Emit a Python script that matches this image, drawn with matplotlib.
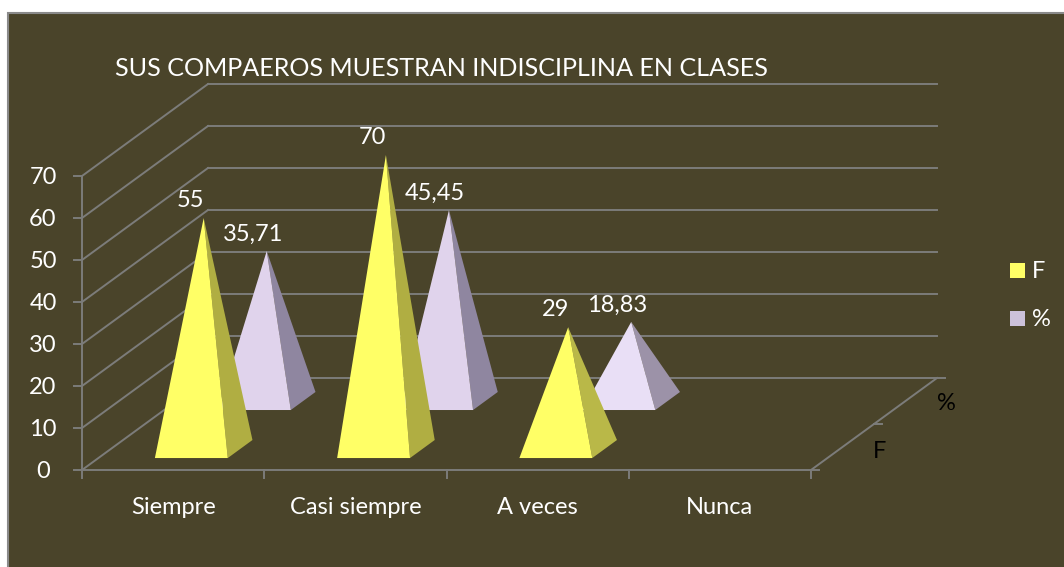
import matplotlib
matplotlib.use('Agg')
import matplotlib.pyplot as plt
from matplotlib.patches import Polygon, Rectangle

categories = ['Siempre', 'Casi siempre', 'A veces', 'Nunca']
series_names = ['F', '%']
f_values = [55, 70, 29, 0]
pct_values = [35.71, 45.45, 18.83, 0]
pct_labels = ['35,71', '45,45', '18,83', '']
y_ticks = [0, 10, 20, 30, 40, 50, 60, 70]
title = 'SUS COMPAEROS MUESTRAN INDISCIPLINA EN CLASES'

BG = '#4a442a'
GRID = '#7c7c7a'
TXT = '#ffffff'
FS = 17

# geometry of the fake 3d box, in pixels of the 1064x567 picture
X0, Y0 = 82, 470
CAT_W = 182.25
PX_PER_UNIT = 4.2
DX, DY = 126, -92


def project(u, d, v):
    # u = category position, d = depth 0..1, v = value
    return (X0 + u * CAT_W + d * DX, Y0 + d * DY - v * PX_PER_UNIT)


def pyramid(ax, i, value, start, d1, d2, front, side):
    fl = project(i + start, d1, 0)
    fr = project(i + start + 0.4, d1, 0)
    br = project(i + start + 0.4, d2, 0)
    apex = project(i + start + 0.2, (d1 + d2) / 2, value)
    ax.add_patch(Polygon([fr, br, apex], closed=True, fc=side, ec='none', zorder=3))
    ax.add_patch(Polygon([fl, fr, apex], closed=True, fc=front, ec='none', zorder=3))
    return apex


fig = plt.figure(figsize=(10.64, 5.67), dpi=100, facecolor='white')
ax = fig.add_axes([0, 0, 1, 1])
ax.set_xlim(0, 1064)
ax.set_ylim(567, 0)
ax.axis('off')
plt.rcParams['font.family'] = ['Lato', 'DejaVu Sans']

ax.add_patch(Rectangle((8, 13), 1070, 570, fc=BG, ec='#8a8a8a', lw=1.5, zorder=0))

# walls
for v in y_ticks:
    a = project(0, 0, v)
    b = project(0, 1, v)
    c = project(4, 1, v)
    ax.plot([a[0], b[0]], [a[1], b[1]], color=GRID, lw=1.4, zorder=1)
    ax.plot([b[0], c[0]], [b[1], c[1]], color=GRID, lw=1.4, zorder=1)
    ax.plot([a[0] - 8, a[0]], [a[1], a[1]], color=GRID, lw=1.4, zorder=1)
    ax.text(a[0] - 39, a[1] + 1.5, str(v), color=TXT, fontsize=FS, ha='center', va='center')

# axis lines
p00 = project(0, 0, 0)
p40 = project(4, 0, 0)
p41 = project(4, 1, 0)
ax.plot([p00[0], p00[0]], [p00[1], project(0, 0, 70)[1]], color=GRID, lw=1.4, zorder=1)
ax.plot([p00[0], p40[0]], [p00[1], p40[1]], color=GRID, lw=1.4, zorder=1)
ax.plot([p40[0], p41[0]], [p40[1], p41[1]], color=GRID, lw=1.4, zorder=1)
for i in range(len(categories) + 1):
    p = project(i, 0, 0)
    ax.plot([p[0], p[0]], [p[1], p[1] + 8], color=GRID, lw=1.4, zorder=1)
for d in [0, 0.5, 1]:
    p = project(4, d, 0)
    ax.plot([p[0], p[0] + 8], [p[1], p[1]], color=GRID, lw=1.4, zorder=1)

# pyramids, back row first
for i, v in enumerate(pct_values):
    if v == 0:
        continue
    front = '#e9dff6' if i == 2 else '#e0d3ec'
    side = '#9c92a8' if i == 2 else '#8f86a0'
    apex = pyramid(ax, i, v, 0.295, 0.652, 0.848, front, side)
    ax.text(apex[0] - 14, apex[1] - 17, pct_labels[i], color=TXT, fontsize=FS,
            ha='center', va='center', zorder=5)
for i, v in enumerate(f_values):
    if v == 0:
        continue
    side = '#b9b848' if i == 2 else '#b0ae42'
    apex = pyramid(ax, i, v, 0.31, 0.13, 0.326, '#ffff66', side)
    ax.text(apex[0] - 13, apex[1] - 18, str(v), color=TXT, fontsize=FS,
            ha='center', va='center', zorder=5)

for i, c in enumerate(categories):
    p = project(i + 0.5, 0, 0)
    ax.text(p[0], 507, c, color=TXT, fontsize=FS, ha='center', va='center')

# depth labels
ax.text(946, 403, series_names[1], color='black', fontsize=FS, ha='center', va='center')
ax.text(880, 451, series_names[0], color='black', fontsize=FS, ha='center', va='center')

# legend
for name, col, y in zip(series_names, ['#ffff66', '#ccc1da'], [263, 311]):
    ax.add_patch(Rectangle((1010, y), 15, 15, fc=col, ec='none'))
    ax.text(1032, y + 8, name, color=TXT, fontsize=FS, ha='left', va='center')

ax.text(115, 68, title, color=TXT, fontsize=18.1, ha='left', va='center')

plt.savefig('out.png', dpi=100)
